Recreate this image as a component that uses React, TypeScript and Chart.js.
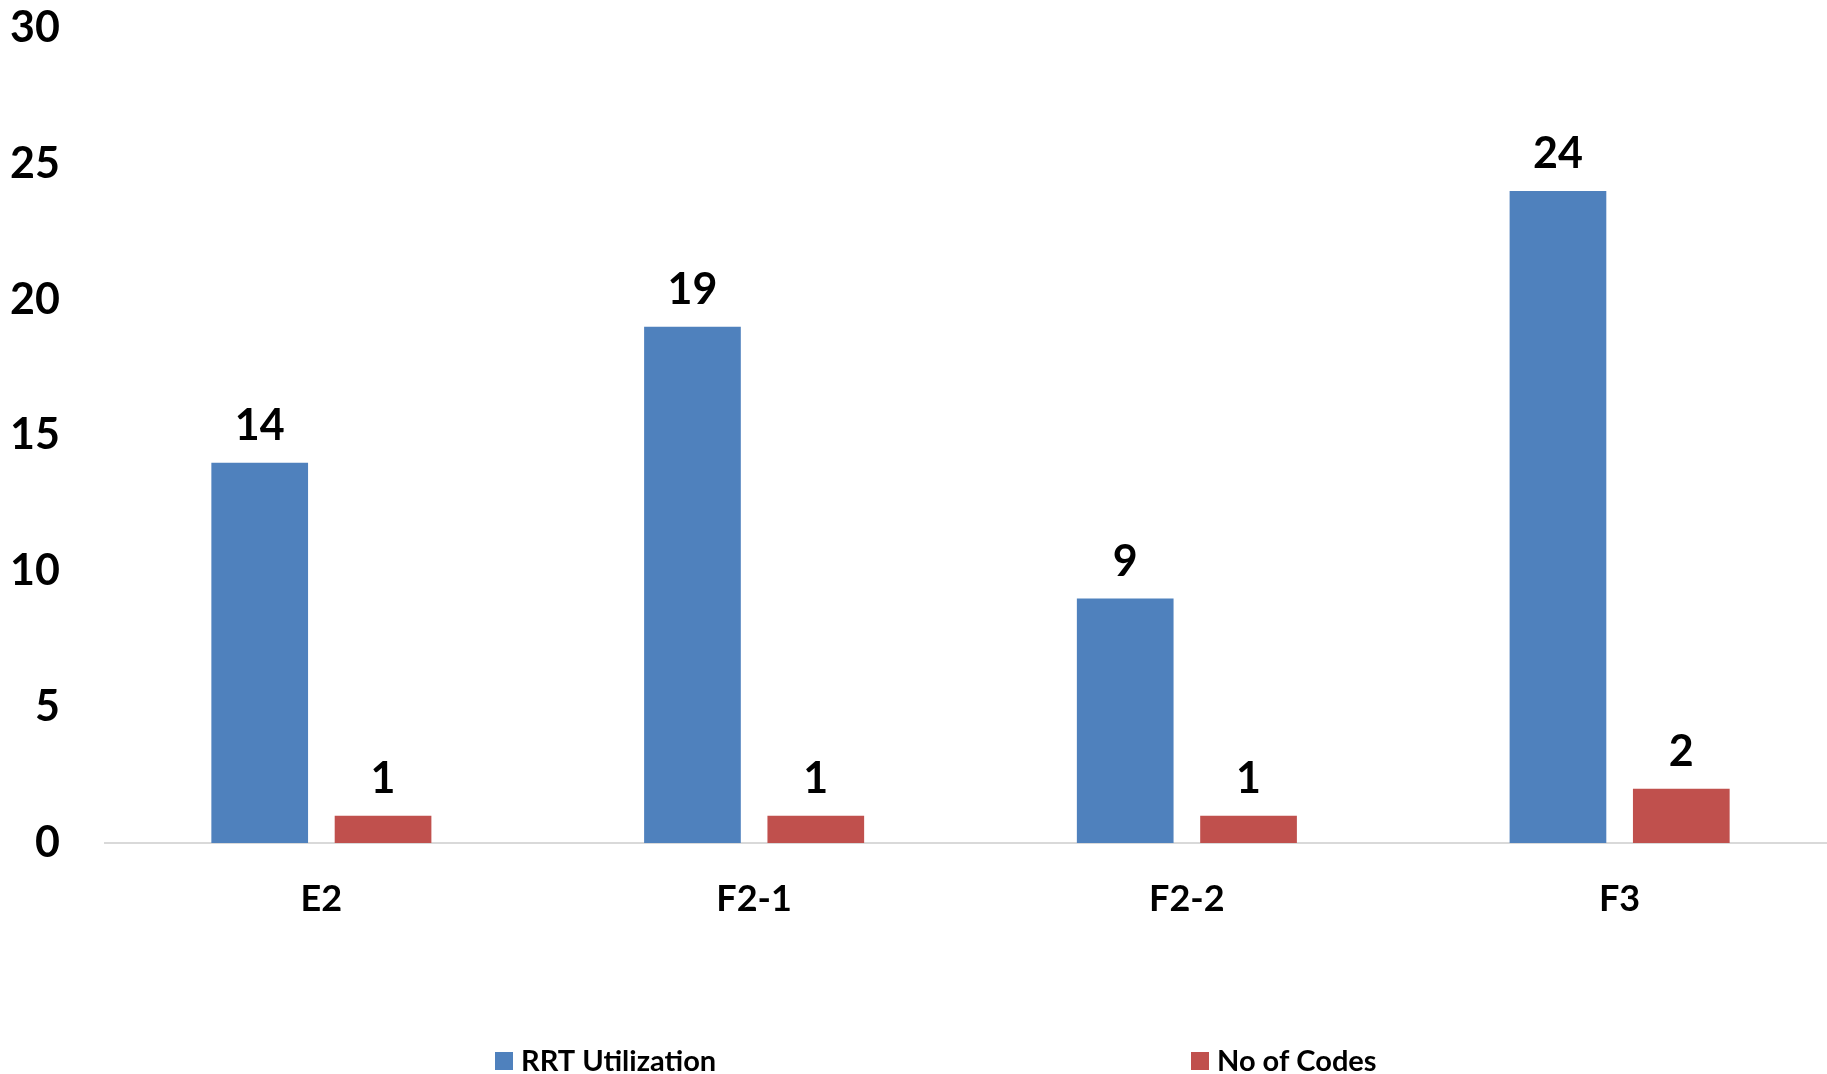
import React, { useEffect, useRef } from "react";
import { Chart, registerables } from "chart.js";

Chart.register(...registerables);

const categories = ["E2", "F2-1", "F2-2", "F3"];
const rrtUtilization = [14, 19, 9, 24];
const noOfCodes = [1, 1, 1, 2];
const seriesNames = ["RRT Utilization", "No of Codes"];
const seriesColors = ["#4F81BD", "#C0504D"];
const yTicks = [0, 5, 10, 15, 20, 25, 30];

const FONT = 'Lato, "Open Sans", "DejaVu Sans", sans-serif';

const valueLabelPlugin = {
  id: "valueLabels",
  afterDatasetsDraw(chart: any) {
    const ctx = chart.ctx;
    ctx.save();
    ctx.font = `bold 43px ${FONT}`;
    ctx.fillStyle = "#000000";
    ctx.textAlign = "center";
    ctx.textBaseline = "alphabetic";
    chart.data.datasets.forEach((ds: any, di: number) => {
      const meta = chart.getDatasetMeta(di);
      meta.data.forEach((bar: any, i: number) => {
        ctx.fillText(String(ds.data[i]), bar.x, bar.y - 23);
      });
    });
    ctx.restore();
  },
};

const customLegendPlugin = {
  id: "customLegend",
  afterDraw(chart: any) {
    const ctx = chart.ctx;
    const positions = [495, 1191];
    ctx.save();
    ctx.font = `bold 29px ${FONT}`;
    ctx.textAlign = "left";
    ctx.textBaseline = "alphabetic";
    chart.data.datasets.forEach((ds: any, i: number) => {
      const x = positions[i];
      ctx.fillStyle = ds.backgroundColor;
      ctx.fillRect(x, 1052, 18, 18);
      ctx.fillStyle = "#000000";
      ctx.fillText(ds.label, x + 26, 1071);
    });
    ctx.restore();
  },
};

export default function App() {
  const canvasRef = useRef<HTMLCanvasElement | null>(null);

  useEffect(() => {
    if (!canvasRef.current) return;
    const chart = new Chart(canvasRef.current, {
      type: "bar",
      data: {
        labels: categories,
        datasets: [
          {
            label: seriesNames[0],
            data: rrtUtilization,
            backgroundColor: seriesColors[0],
            categoryPercentage: 0.57,
            barPercentage: 0.784,
          },
          {
            label: seriesNames[1],
            data: noOfCodes,
            backgroundColor: seriesColors[1],
            categoryPercentage: 0.57,
            barPercentage: 0.784,
          },
        ],
      },
      options: {
        animation: false,
        responsive: false,
        devicePixelRatio: 1,
        layout: { padding: { top: 28, left: 0, right: 0, bottom: 0 } },
        plugins: {
          legend: { display: false },
          tooltip: { enabled: false },
          title: { display: false },
        },
        scales: {
          x: {
            grid: { display: false, drawTicks: false },
            border: { display: true, color: "#D9D9D9", width: 2 },
            ticks: {
              color: "#000000",
              font: { family: FONT, size: 36, weight: "bold" },
              padding: 35,
            },
            afterFit(scale: any) {
              scale.height = 231;
            },
          },
          y: {
            min: 0,
            max: 30,
            afterBuildTicks(scale: any) {
              scale.ticks = yTicks.map((v) => ({ value: v }));
            },
            grid: { display: false, drawTicks: false },
            border: { display: false },
            ticks: {
              color: "#000000",
              font: { family: FONT, size: 43, weight: "bold" },
              padding: 45,
            },
            afterFit(scale: any) {
              scale.width = 105;
              scale.paddingTop = 0;
              scale.paddingBottom = 0;
            },
          },
        },
      },
      plugins: [valueLabelPlugin, customLegendPlugin],
    });
    return () => chart.destroy();
  }, []);

  return (
    <div
      style={{
        position: "fixed",
        left: 0,
        top: 0,
        width: 1827,
        height: 1074,
        overflow: "hidden",
        background: "#ffffff",
      }}
    >
      <canvas
        ref={canvasRef}
        width={1836}
        height={1074}
        style={{ display: "block", width: 1836, height: 1074 }}
      />
    </div>
  );
}
